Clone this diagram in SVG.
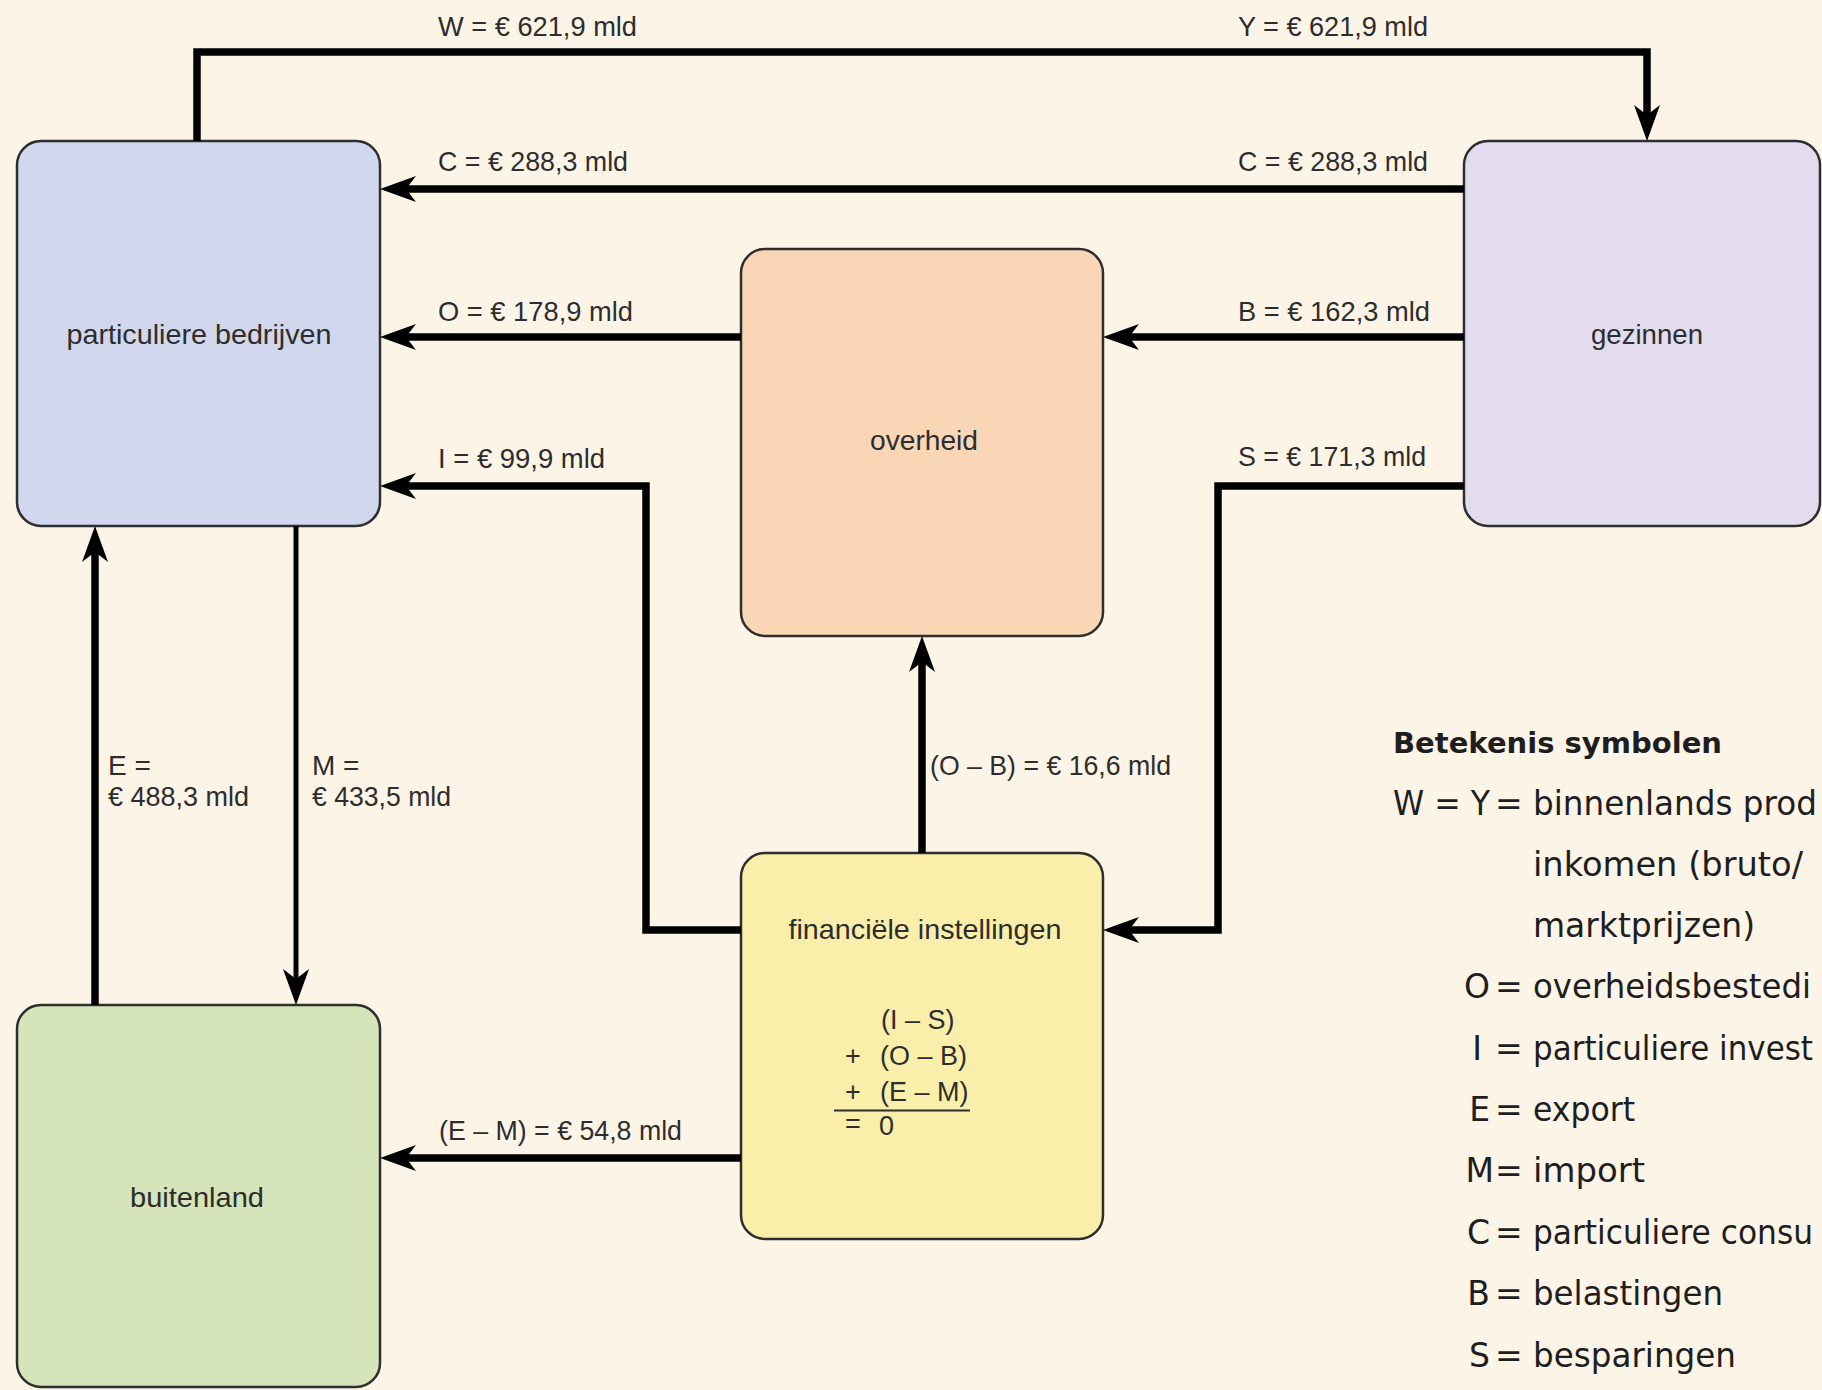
<svg xmlns="http://www.w3.org/2000/svg" width="1822" height="1390" viewBox="0 0 1822 1390">
<style>
.box{stroke:#2e2e2e;stroke-width:2.5}
.lbl{font-family:"Liberation Sans",Arial,sans-serif;font-size:28px;fill:#2d2d2d}
.nl{font-family:"Liberation Sans",Arial,sans-serif;font-size:28px;fill:#2d2d2d;text-anchor:middle}
.eq{font-family:"Liberation Sans",Arial,sans-serif;font-size:27px;fill:#2d2d2d}
.conn{fill:none;stroke:#000;stroke-width:7.5;stroke-linejoin:miter;marker-end:url(#ah)}
.thin{stroke-width:5}
.lg{font-family:"DejaVu Sans",sans-serif;font-size:33px;fill:#1e1e1e}
.lgb{font-family:"DejaVu Sans",sans-serif;font-size:29px;font-weight:bold;fill:#1e1e1e}
.end{text-anchor:end}
</style>
<defs>
<marker id="ah" markerUnits="userSpaceOnUse" viewBox="-20 -16 44 32" refX="0" refY="0" markerWidth="44" markerHeight="32" orient="auto">
<path d="M20,0 L-16,-13 L-6,0 L-16,13 Z" fill="#000"/>
</marker>
</defs>
<rect x="0" y="0" width="1822" height="1390" fill="#fdf4e8"/>

<g id="particuliere-bedrijven">
<rect class="box" x="17" y="141" width="363" height="385" rx="24" fill="#d1d7ec"/>
<text class="nl" x="199" y="344" textLength="265" lengthAdjust="spacingAndGlyphs">particuliere bedrijven</text>
</g>
<g id="gezinnen">
<rect class="box" x="1464" y="141" width="356" height="385" rx="24" fill="#e3dcef"/>
<text class="nl" x="1647" y="344" textLength="112" lengthAdjust="spacingAndGlyphs">gezinnen</text>
</g>
<g id="overheid">
<rect class="box" x="741" y="249" width="362" height="387" rx="24" fill="#f9d6b5"/>
<text class="nl" x="924" y="450" textLength="108" lengthAdjust="spacingAndGlyphs">overheid</text>
</g>
<g id="financiele-instellingen">
<rect class="box" x="741" y="853" width="362" height="386" rx="24" fill="#f9efab"/>
<text class="nl" x="925" y="939" textLength="273" lengthAdjust="spacingAndGlyphs">financiële instellingen</text>
<text class="eq" x="881" y="1029">(I – S)</text>
<text class="eq" x="845" y="1065">+</text>
<text class="eq" x="880" y="1065">(O – B)</text>
<text class="eq" x="845" y="1101">+</text>
<text class="eq" x="880" y="1101">(E – M)</text>
<line x1="834" y1="1110.5" x2="970" y2="1110.5" stroke="#2d2d2d" stroke-width="1.8"/>
<text class="eq" x="845" y="1133">=</text>
<text class="eq" x="879" y="1135">0</text>
</g>
<g id="buitenland">
<rect class="box" x="17" y="1005" width="363" height="382" rx="24" fill="#d5e4b9"/>
<text class="nl" x="197" y="1207" textLength="134" lengthAdjust="spacingAndGlyphs">buitenland</text>
</g>

<g id="connectors">
<path class="conn" d="M197,141 V52 H1647 V121"/>
<path class="conn" d="M1464,189 H400"/>
<path class="conn" d="M741,337 H400"/>
<path class="conn" d="M1464,337 H1123"/>
<path class="conn" d="M741,930 H646 V486 H400"/>
<path class="conn" d="M1464,486 H1218 V930 H1123"/>
<path class="conn" d="M922,853 V656"/>
<path class="conn" d="M95,1005 V546"/>
<path class="conn thin" d="M296,526 V985"/>
<path class="conn" d="M741,1158 H400"/>
</g>

<g id="connector-labels">
<text class="lbl" x="438" y="36" textLength="199" lengthAdjust="spacingAndGlyphs">W = € 621,9 mld</text>
<text class="lbl" x="1238" y="36" textLength="190" lengthAdjust="spacingAndGlyphs">Y = € 621,9 mld</text>
<text class="lbl" x="438" y="171" textLength="190" lengthAdjust="spacingAndGlyphs">C = € 288,3 mld</text>
<text class="lbl" x="1238" y="171" textLength="190" lengthAdjust="spacingAndGlyphs">C = € 288,3 mld</text>
<text class="lbl" x="438" y="321" textLength="195" lengthAdjust="spacingAndGlyphs">O = € 178,9 mld</text>
<text class="lbl" x="1238" y="321" textLength="192" lengthAdjust="spacingAndGlyphs">B = € 162,3 mld</text>
<text class="lbl" x="438" y="468" textLength="167" lengthAdjust="spacingAndGlyphs">I = € 99,9 mld</text>
<text class="lbl" x="1238" y="466" textLength="188" lengthAdjust="spacingAndGlyphs">S = € 171,3 mld</text>
<text class="lbl" x="108" y="775">E =</text>
<text class="lbl" x="108" y="806" textLength="141" lengthAdjust="spacingAndGlyphs">€ 488,3 mld</text>
<text class="lbl" x="312" y="775">M =</text>
<text class="lbl" x="312" y="806" textLength="139" lengthAdjust="spacingAndGlyphs">€ 433,5 mld</text>
<text class="lbl" x="930" y="775" textLength="241" lengthAdjust="spacingAndGlyphs">(O – B) = € 16,6 mld</text>
<text class="lbl" x="439" y="1140" textLength="243" lengthAdjust="spacingAndGlyphs">(E – M) = € 54,8 mld</text>
</g>

<g id="legend">
<text class="lgb" x="1393" y="753" textLength="329" lengthAdjust="spacingAndGlyphs">Betekenis symbolen</text>
<text class="lg end" x="1490" y="815" textLength="97" lengthAdjust="spacingAndGlyphs">W = Y</text>
<text class="lg" x="1495" y="815">=</text>
<text class="lg" x="1533" y="815" textLength="284" lengthAdjust="spacingAndGlyphs">binnenlands prod</text>
<text class="lg" x="1533" y="876" textLength="270" lengthAdjust="spacingAndGlyphs">inkomen (bruto/</text>
<text class="lg" x="1533" y="937" textLength="222" lengthAdjust="spacingAndGlyphs">marktprijzen)</text>
<text class="lg end" x="1490" y="998">O</text>
<text class="lg" x="1495" y="998">=</text>
<text class="lg" x="1533" y="998" textLength="278" lengthAdjust="spacingAndGlyphs">overheidsbestedi</text>
<text class="lg end" x="1482" y="1060">I</text>
<text class="lg" x="1495" y="1060">=</text>
<text class="lg" x="1533" y="1060" textLength="280" lengthAdjust="spacingAndGlyphs">particuliere invest</text>
<text class="lg end" x="1490" y="1121">E</text>
<text class="lg" x="1495" y="1121">=</text>
<text class="lg" x="1533" y="1121" textLength="102" lengthAdjust="spacingAndGlyphs">export</text>
<text class="lg end" x="1494" y="1182">M</text>
<text class="lg" x="1495" y="1182">=</text>
<text class="lg" x="1533" y="1182" textLength="112" lengthAdjust="spacingAndGlyphs">import</text>
<text class="lg end" x="1490" y="1244">C</text>
<text class="lg" x="1495" y="1244">=</text>
<text class="lg" x="1533" y="1244" textLength="280" lengthAdjust="spacingAndGlyphs">particuliere consu</text>
<text class="lg end" x="1490" y="1305">B</text>
<text class="lg" x="1495" y="1305">=</text>
<text class="lg" x="1533" y="1305" textLength="190" lengthAdjust="spacingAndGlyphs">belastingen</text>
<text class="lg end" x="1490" y="1367">S</text>
<text class="lg" x="1495" y="1367">=</text>
<text class="lg" x="1533" y="1367" textLength="203" lengthAdjust="spacingAndGlyphs">besparingen</text>
</g>
</svg>
